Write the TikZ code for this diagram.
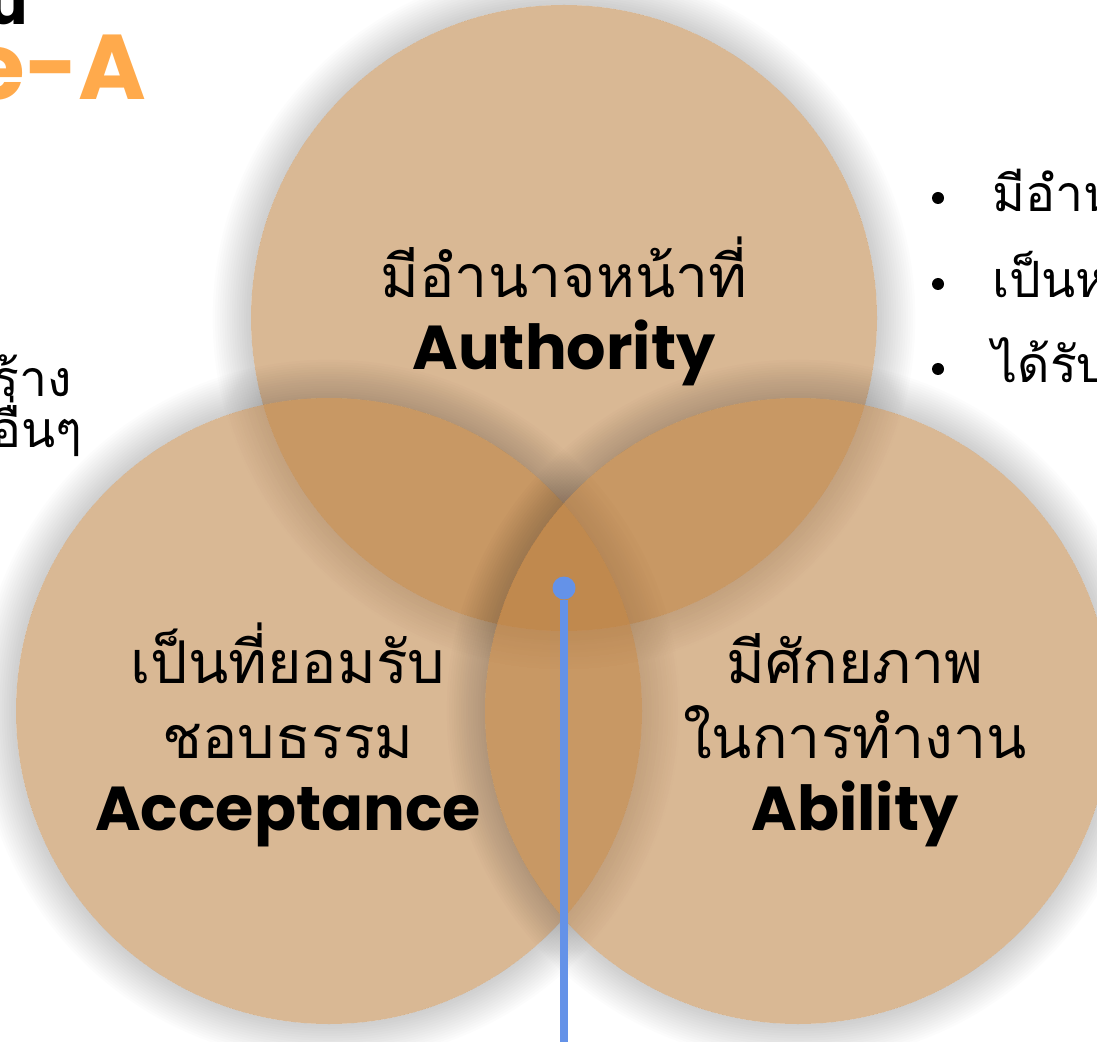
\documentclass[tikz,border=0pt]{standalone}
\usepackage{fontspec}
\setmainfont{Poppins}
\newfontfamily\thaifont[Script=Thai]{Loma}
\usepackage{tikz}
\definecolor{venntan}{RGB}{186,125,60}
\definecolor{linkblue}{RGB}{100,146,232}
\definecolor{titleorange}{RGB}{255,170,76}

\begin{document}
\begin{tikzpicture}[x=0.5pt,y=-0.5pt]
    \tikzstyle{venn}=[circle,fill=venntan,fill opacity=0.55,minimum size=313pt,inner sep=0pt]
    \tikzstyle{halo}=[black,opacity=0.011,even odd rule]
    \tikzstyle{thai}=[font=\thaifont\fontsize{29.5}{36}\selectfont,anchor=base,inner sep=0pt]
    \tikzstyle{eng}=[font=\bfseries\fontsize{31}{36}\selectfont,anchor=base,inner sep=0pt]
    \tikzstyle{side}=[font=\thaifont\fontsize{25}{30}\selectfont,inner sep=0pt]
    \tikzstyle{dot}=[circle,fill=linkblue,minimum size=11.5pt,inner sep=0pt]
    \tikzstyle{link}=[draw=linkblue,line width=3.8pt]
    \useasboundingbox (0,0) rectangle (1097,1042);

    % Draw the circles with their soft shadows
    \foreach \name/\cx/\cy in {top/564/318, left/329/711, right/798/711} {
        \foreach \k in {1,...,16}
            \fill[halo] (\cx,\cy) circle (156.5pt) circle ({(156.5+\k*1.2)*1pt});
        \node[venn] (\name) at (\cx,\cy) {};
    }

    % Labels inside the circles
    \node[thai] (top-th) at (564,298) {มีอำนาจหน้าที่};
    \node[eng] (top-en) at (564,370) {Authority};

    \node[thai] (left-th1) at (288,683) {เป็นที่ยอมรับ};
    \node[thai] (left-th2) at (288,758) {ชอบธรรม};
    \node[eng] (left-en) at (288,830) {Acceptance};

    \node[thai] (right-th1) at (855,683) {มีศักยภาพ};
    \node[thai] (right-th2) at (855,758) {ในการทำงาน};
    \node[eng] (right-en) at (855,830) {Ability};

    % Cut-off title and side texts
    \node[font=\bfseries\fontsize{30}{30}\selectfont,anchor=base east,inner sep=0pt] (title-a) at (28,25) {u};
    \node[font=\bfseries\fontsize{46}{46}\selectfont,text=titleorange,anchor=base east,inner sep=0pt] (title-b) at (147,100) {e-A};
    \node[side,anchor=base east] (note-1) at (72,397) {สร้าง};
    \node[side,anchor=base east] (note-2) at (83,448) {งอื่นๆ};

    \foreach \i/\y/\txt in {1/212/มีอำนาจ, 2/298/เป็นหน้า, 3/383/ได้รับอ} {
        \node[circle,fill=black,minimum size=6pt,inner sep=0pt] (bullet-\i) at (938,\y-14) {};
        \node[side,anchor=base west] (item-\i) at (992,\y) {\txt};
    }

    % Pointer from the centre
    \node[dot] (hub) at (564,588) {};
    \coordinate (foot) at (564,1042);
    \draw[link] (hub) -- (foot);
\end{tikzpicture}
\end{document}
